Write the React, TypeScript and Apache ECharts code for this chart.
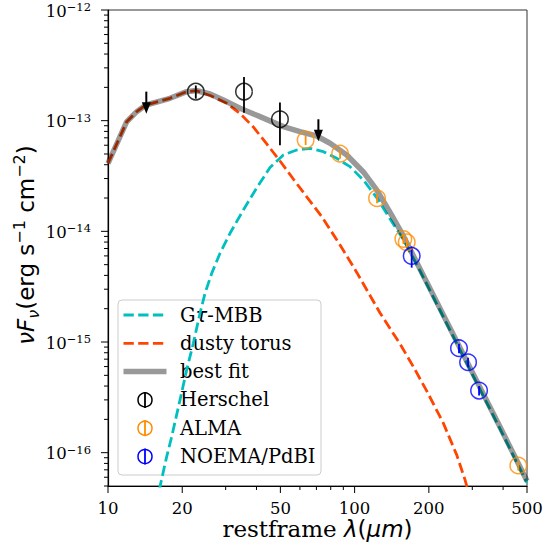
import React, { useEffect, useRef } from 'react';
import * as echarts from 'echarts';

// ---------- data ----------
const torusLam = [10, 11.91, 13.07, 14.26, 17.84, 20.85, 22.75, 25.93, 30.29, 34.3, 38.83, 44.02, 49.83, 56.4, 63.94, 73.56, 87.27, 102.3, 126.8, 152.8, 173.0, 196.0, 228.9, 259.4, 280.4, 299.3];
const torusFlux = [4.12e-14, 9.79e-14, 1.206e-13, 1.386e-13, 1.593e-13, 1.828e-13, 1.87e-13, 1.689e-13, 1.437e-13, 1.161e-13, 8.77e-14, 6.16e-14, 4.32e-14, 2.97e-14, 2.05e-14, 1.36e-14, 7.54e-15, 4.21e-15, 1.83e-15, 9.61e-16, 5.99e-16, 3.62e-16, 1.85e-16, 9.55e-17, 5.68e-17, 3.38e-17];

const mbbLam = [15.5, 16.25, 17.3, 18.13, 19.59, 20.85, 22.18, 23.61, 24.74, 26.34, 28.46, 31.24, 35.38, 40.09, 45.39, 51.39, 58.23, 65.95, 74.66, 84.61, 95.79, 108.5, 122.9, 139.2, 157.6, 184.2, 222.0, 267.6, 322.5, 388.8, 500.1];
const mbbFlux = [2.5e-17, 4.94e-17, 9.22e-17, 1.4e-16, 3.0e-16, 5.6e-16, 9.75e-16, 1.82e-15, 2.76e-15, 4.18e-15, 6.34e-15, 9.61e-15, 1.56e-14, 2.47e-14, 3.78e-14, 4.9e-14, 5.43e-14, 5.63e-14, 5.25e-14, 4.57e-14, 3.84e-14, 2.91e-14, 2.02e-14, 1.29e-14, 8.45e-15, 4.39e-15, 1.93e-15, 8.48e-16, 3.73e-16, 1.64e-16, 5.33e-17];

const fitLam = [10, 11.91, 13.07, 14.26, 17.84, 20.85, 22.75, 25.93, 29.35, 34.3, 41.35, 51.39, 60.05, 70.2, 79.5, 92.9, 108.5, 122.9, 143.5, 157.6, 184.2, 222.0, 267.6, 322.5, 388.8, 500.1];
const fitFlux = [4.12e-14, 9.79e-14, 1.206e-13, 1.386e-13, 1.593e-13, 1.828e-13, 1.874e-13, 1.742e-13, 1.538e-13, 1.294e-13, 1.087e-13, 8.83e-14, 7.95e-14, 7.27e-14, 6.25e-14, 4.9e-14, 3.44e-14, 2.37e-14, 1.32e-14, 9.09e-15, 4.57e-15, 2.01e-15, 8.84e-16, 3.89e-16, 1.71e-16, 5.56e-17];

const herschelLam = [22.7, 35.6, 49.8];
const herschelFlux = [1.83e-13, 1.83e-13, 1.03e-13];
const herschelErr = [2.5e-14, 6.5e-14, 4.3e-14];

const limitLam = [14.3, 71.3];
const limitFlux = [1.83e-13, 1.03e-13];

const almaLam = [63.3, 87.3, 123.3, 157.6, 162.7, 461];
const almaFlux = [6.7e-14, 5.03e-14, 1.99e-14, 8.53e-15, 7.97e-15, 7.66e-17];
const almaErr = [6.7e-15, 5.0e-15, 2.0e-15, 8.5e-16, 8.0e-16, 7.7e-18];

const noemaLam = [170.4, 265, 288.4, 319.6];
const noemaFlux = [6.0e-15, 8.79e-16, 6.56e-16, 3.64e-16];
const noemaErr = [1.3e-15, 8.8e-17, 6.6e-17, 3.6e-17];

const xMajorTicks = [10, 20, 50, 100, 200, 500];
const xMinorTicks = [30, 40, 60, 70, 80, 90, 300, 400];
const yMajorTicks = [1e-16, 1e-15, 1e-14, 1e-13, 1e-12];
const yMinorTicks = [
  5e-17, 6e-17, 7e-17, 8e-17, 9e-17,
  2e-16, 3e-16, 4e-16, 5e-16, 6e-16, 7e-16, 8e-16, 9e-16,
  2e-15, 3e-15, 4e-15, 5e-15, 6e-15, 7e-15, 8e-15, 9e-15,
  2e-14, 3e-14, 4e-14, 5e-14, 6e-14, 7e-14, 8e-14, 9e-14,
  2e-13, 3e-13, 4e-13, 5e-13, 6e-13, 7e-13, 8e-13, 9e-13,
];

const legendLabels = ['G{t|τ}-MBB', 'dusty torus', 'best fit', 'Herschel', 'ALMA', 'NOEMA/PdBI'];

const X_MIN = 10;
const X_MAX = 500;
const Y_MIN = 5e-17;
const Y_MAX = 1e-12;

const C_MBB = '#00bfbf';
const C_TORUS = '#ff4500';
const C_FIT = 'rgba(0,0,0,0.4)';
const C_ALMA = '#ff8c00';
const C_NOEMA = '#0000ff';
const C_HER = '#000000';

const SERIF = "'DejaVu Serif', serif";
const SANS = "'DejaVu Sans', sans-serif";

const pairs = (a: number[], b: number[]) => a.map((v, i) => [v, b[i]]);

function xTicks(values: number[], len: number, label: boolean) {
  return {
    type: 'custom',
    coordinateSystem: 'cartesian2d',
    clip: false,
    silent: true,
    z: 6,
    data: values.map((v) => [v, Y_MIN]),
    renderItem: (_p: any, api: any) => {
      const v = api.value(0);
      const p = api.coord([v, Y_MIN]);
      const children: any[] = [
        { type: 'line', shape: { x1: p[0], y1: p[1], x2: p[0], y2: p[1] + len }, style: { stroke: '#000', lineWidth: 1 } },
      ];
      if (label) {
        children.push({
          type: 'text',
          x: p[0],
          y: p[1] + 22,
          style: { text: String(v), fill: '#000', fontSize: 16.5, fontFamily: SERIF, align: 'center', verticalAlign: 'middle' },
        });
      }
      return { type: 'group', children };
    },
  };
}

function yTicks(values: number[], len: number, label: boolean) {
  return {
    type: 'custom',
    coordinateSystem: 'cartesian2d',
    clip: false,
    silent: true,
    z: 6,
    data: values.map((v) => [X_MIN, v]),
    renderItem: (_p: any, api: any) => {
      const v = api.value(1);
      const p = api.coord([X_MIN, v]);
      const children: any[] = [
        { type: 'line', shape: { x1: p[0] - len, y1: p[1], x2: p[0], y2: p[1] }, style: { stroke: '#000', lineWidth: 1 } },
      ];
      if (label) {
        const e = Math.round(Math.log10(v));
        children.push({
          type: 'text',
          x: p[0] - 17,
          y: p[1] + 1,
          style: {
            text: '{b|10}{s|\u2212' + String(Math.abs(e)) + '}',
            fill: '#000',
            align: 'right',
            verticalAlign: 'middle',
            rich: {
              b: { fontSize: 16.5, fontFamily: SERIF, lineHeight: 20, fill: '#000' },
              s: { fontSize: 11.5, fontFamily: SERIF, lineHeight: 10, verticalAlign: 'top', fill: '#000' },
            },
          },
        });
      }
      return { type: 'group', children };
    },
  };
}

function errorBars(lam: number[], flux: number[], err: number[], color: string) {
  return {
    type: 'custom',
    coordinateSystem: 'cartesian2d',
    silent: true,
    z: 4,
    data: lam.map((l, i) => [l, flux[i], flux[i] - err[i], flux[i] + err[i]]),
    renderItem: (_p: any, api: any) => {
      const a = api.coord([api.value(0), api.value(2)]);
      const b = api.coord([api.value(0), api.value(3)]);
      return {
        type: 'line',
        shape: { x1: a[0], y1: a[1], x2: b[0], y2: b[1] },
        style: { stroke: color, lineWidth: 1.8 },
      };
    },
  };
}

function limitArrows(lam: number[], flux: number[]) {
  return {
    type: 'custom',
    coordinateSystem: 'cartesian2d',
    silent: true,
    z: 4,
    data: pairs(lam, flux),
    renderItem: (_p: any, api: any) => {
      const p = api.coord([api.value(0), api.value(1)]);
      return {
        type: 'group',
        children: [
          { type: 'line', shape: { x1: p[0], y1: p[1], x2: p[0], y2: p[1] + 13 }, style: { stroke: '#000', lineWidth: 2 } },
          {
            type: 'polygon',
            shape: { points: [[p[0] - 4.5, p[1] + 10.5], [p[0] + 4.5, p[1] + 10.5], [p[0], p[1] + 22]] },
            style: { fill: '#000' },
          },
        ],
      };
    },
  };
}

function circles(lam: number[], flux: number[], color: string) {
  return {
    type: 'scatter',
    data: pairs(lam, flux),
    symbol: 'circle',
    symbolSize: 16.5,
    z: 5,
    silent: true,
    itemStyle: { color: 'rgba(0,0,0,0)', borderColor: color, borderWidth: 1.5 },
  };
}

function buildLegend() {
  const x0 = 118;
  const y0 = 300;
  const rowY = (i: number) => 315 + i * 28.3;
  const els: any[] = [
    {
      type: 'rect',
      shape: { x: x0, y: y0, width: 203, height: 175, r: 4 },
      style: { fill: 'rgba(255,255,255,0.8)', stroke: '#cccccc', lineWidth: 1 },
    },
  ];
  const lineStyles = [
    { stroke: C_MBB, lineWidth: 2.8, lineDash: [10.3, 4.4] },
    { stroke: C_TORUS, lineWidth: 2.8, lineDash: [10.3, 4.4] },
    { stroke: C_FIT, lineWidth: 5.5 },
  ];
  lineStyles.forEach((st, i) => {
    els.push({ type: 'line', shape: { x1: 123.5, y1: rowY(i), x2: 166.5, y2: rowY(i) }, style: st });
  });
  [C_HER, C_ALMA, C_NOEMA].forEach((c, k) => {
    const y = rowY(3 + k);
    els.push({ type: 'circle', shape: { cx: 145, cy: y, r: 7 }, style: { fill: 'none', stroke: c, lineWidth: 1.5 } });
    els.push({ type: 'line', shape: { x1: 145, y1: y - 8, x2: 145, y2: y + 8 }, style: { stroke: c, lineWidth: 1.8 } });
  });
  legendLabels.forEach((t, i) => {
    els.push({
      type: 'text',
      x: 180,
      y: rowY(i),
      style: {
        text: t,
        fill: '#000',
        fontSize: 19.5,
        fontFamily: SERIF,
        align: 'left',
        verticalAlign: 'middle',
        rich: { t: { fontSize: 19.5, fontFamily: SANS, fontStyle: 'italic', fill: '#000' } },
      },
    });
  });
  return { type: 'group', z: 100, children: els };
}

export default function App() {
  const ref = useRef<HTMLDivElement>(null);
  useEffect(() => {
    if (!ref.current) return;
    const chart = echarts.init(ref.current, undefined, { renderer: 'svg' });
    const option: any = {
      animation: false,
      backgroundColor: '#ffffff',
      grid: { left: 108, right: 33, top: 10, bottom: 65, show: true, borderColor: '#333', borderWidth: 1, backgroundColor: 'transparent' },
      xAxis: {
        type: 'log',
        logBase: 10,
        min: X_MIN,
        max: X_MAX,
        axisLine: { show: true, lineStyle: { color: '#000', width: 1.2 } },
        axisTick: { show: false },
        axisLabel: { show: false },
        splitLine: { show: false },
        minorTick: { show: false },
      },
      yAxis: {
        type: 'log',
        logBase: 10,
        min: Y_MIN,
        max: Y_MAX,
        axisLine: { show: true, lineStyle: { color: '#000', width: 1.2 } },
        axisTick: { show: false },
        axisLabel: { show: false },
        splitLine: { show: false },
        minorTick: { show: false },
      },
      series: [
        {
          type: 'line',
          name: 'Gτ-MBB',
          data: pairs(mbbLam, mbbFlux),
          showSymbol: false,
          silent: true,
          z: 2,
          lineStyle: { color: C_MBB, width: 2.8, type: [10.3, 4.4] },
        },
        {
          type: 'line',
          name: 'dusty torus',
          data: pairs(torusLam, torusFlux),
          showSymbol: false,
          silent: true,
          z: 2,
          lineStyle: { color: C_TORUS, width: 2.8, type: [10.3, 4.4] },
        },
        {
          type: 'line',
          name: 'best fit',
          data: pairs(fitLam, fitFlux),
          showSymbol: false,
          silent: true,
          z: 3,
          lineStyle: { color: C_FIT, width: 5.5, cap: 'butt', join: 'round' },
        },
        errorBars(herschelLam, herschelFlux, herschelErr, C_HER),
        errorBars(almaLam, almaFlux, almaErr, C_ALMA),
        errorBars(noemaLam, noemaFlux, noemaErr, C_NOEMA),
        limitArrows(limitLam, limitFlux),
        circles(herschelLam, herschelFlux, C_HER),
        circles(almaLam, almaFlux, C_ALMA),
        circles(noemaLam, noemaFlux, C_NOEMA),
        xTicks(xMajorTicks, 7, true),
        xTicks(xMinorTicks, 4, false),
        yTicks(yMajorTicks, 7, true),
        yTicks(yMinorTicks, 4, false),
      ],
      graphic: [
        buildLegend(),
        {
          type: 'text',
          x: 317.5,
          y: 529,
          z: 100,
          style: {
            text: '{r|restframe }{i|λ}{n|(}{i|μm}{n|)}',
            align: 'center',
            verticalAlign: 'middle',
            fill: '#000',
            rich: {
              r: { fontSize: 23, fontFamily: SERIF, fill: '#000' },
              i: { fontSize: 23, fontFamily: SANS, fontStyle: 'italic', fill: '#000' },
              n: { fontSize: 23, fontFamily: SANS, fill: '#000' },
            },
          },
        },
        {
          type: 'text',
          x: 26,
          y: 245,
          rotation: Math.PI / 2,
          z: 100,
          style: {
            text: '{i|νF}{sub|ν}{n|(erg s}{sup|\u22121}{n| cm}{sup|\u22122}{n|)}',
            align: 'center',
            verticalAlign: 'middle',
            fill: '#000',
            rich: {
              i: { fontSize: 23, fontFamily: SANS, fontStyle: 'italic', lineHeight: 30, fill: '#000' },
              sub: { fontSize: 16, fontFamily: SANS, fontStyle: 'italic', lineHeight: 14, verticalAlign: 'bottom', fill: '#000' },
              n: { fontSize: 23, fontFamily: SANS, lineHeight: 30, fill: '#000' },
              sup: { fontSize: 16, fontFamily: SANS, lineHeight: 14, verticalAlign: 'top', fill: '#000' },
            },
          },
        },
      ],
    };
    chart.setOption(option);
    return () => chart.dispose();
  }, []);
  return <div ref={ref} style={{ position: 'absolute', left: 0, top: 0, width: 560, height: 551 }} />;
}
